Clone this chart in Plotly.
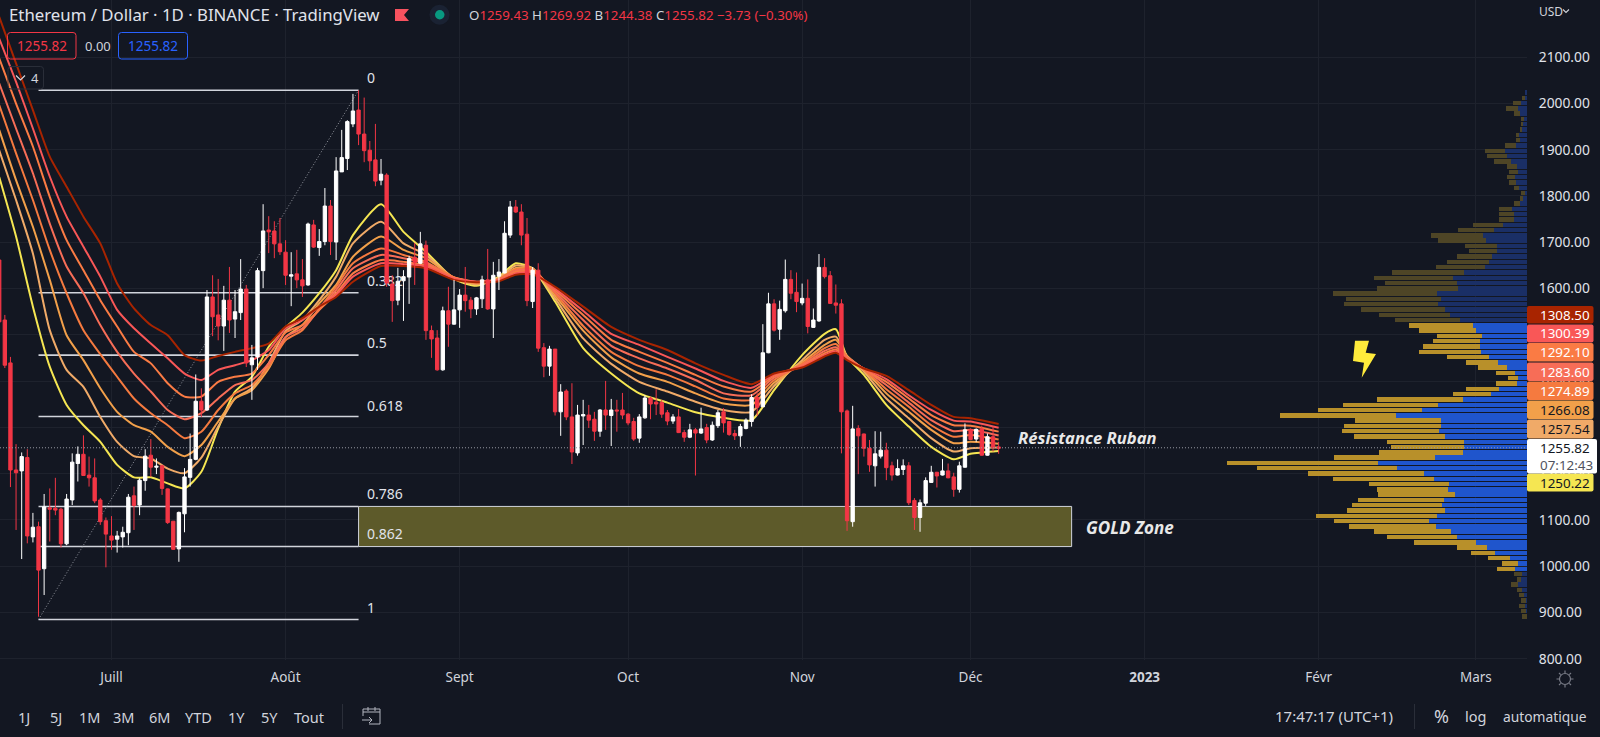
import plotly.graph_objects as go
import pandas as pd

FONT = "Noto Sans"
BG = "#131722"; GRID = "#1e222d"; TXT = "#d1d4dc"; RED = "#f23645"

first_day = "2022-06-11"
o = [1664,1534,1441,1209,1207,1236,1064,1086,995,1127,1126,1124,1049,1144,1223,1243,1198,1192,1144,1099,
     1066,1059,1064,1073,1153,1133,1186,1241,1215,1218,1168,1098,1038,1114,1193,1232,1358,1339,1584,1545,1521,1577,1536,1550,1601,1437,1454,1641,1729,1727,1699,
     1681,1629,1634,1621,1610,1740,1691,1704,1781,1703,1855,1884,1959,1989,1937,1902,1881,1837,1848,1612,1577,1619,1627,1670,1657,1696,1511,1495,1426,1554,1525,
     1556,1588,1577,1558,1580,1621,1558,1629,1636,1718,1779,1768,1720,1574,1642,1474,1434,1471,1335,1380,1324,1246,1326,1328,1319,1293,1339,1327,1339,1339,
     1330,1314,1278,1322,1365,1356,1355,1333,1315,1324,1290,1280,1296,1289,1301,1274,1305,1335,1314,1288,1283,1299,1314,1366,1346,1463,1569,1514,1554,1622,1594,
     1571,1581,1518,1532,1648,1630,1571,1569,1337,1097,1299,1287,1256,1218,1239,1252,1218,1198,1210,1218,1143,1106,1137,1182,1204,1198,1207,1194,1167,1215,
     1296,1276,1298,1241,1281,1259]
h = [1675,1545,1454,1265,1247,1254,1116,1097,1157,1169,1192,1127,1157,1245,1260,1284,1238,1234,1148,1106,
     1109,1077,1086,1157,1173,1191,1254,1276,1234,1220,1169,1098,1119,1213,1288,1416,1386,1599,1631,1623,1608,1649,1599,1666,1610,1480,1647,1785,1759,1748,1755,
     1707,1681,1686,1666,1745,1751,1731,1820,1794,1887,1946,1967,2024,2032,2016,1922,1959,1883,1852,1631,1647,1642,1673,1701,1725,1706,1522,1512,1563,1606,1621,
     1601,1649,1584,1584,1630,1688,1660,1666,1748,1792,1794,1785,1755,1649,1657,1484,1478,1471,1395,1384,1397,1350,1361,1350,1335,1341,1402,1363,1361,1376,
     1332,1322,1330,1371,1368,1384,1361,1339,1330,1341,1296,1309,1300,1344,1309,1314,1339,1343,1315,1296,1309,1321,1373,1375,1525,1593,1579,1576,1665,1642,1637,
     1613,1622,1559,1677,1668,1640,1611,1579,1340,1348,1306,1288,1274,1293,1292,1268,1227,1232,1232,1226,1148,1145,1193,1218,1205,1233,1223,1203,1227,1310,
     1299,1299,1305,1288,1303,1270]
l = [1510,1430,1172,1079,1016,1050,1052,891,938,1054,1111,1041,1046,1133,1184,1196,1173,1137,1090,998,
     1036,1030,1041,1046,1079,1111,1164,1194,1200,1155,1092,1036,1010,1074,1173,1230,1324,1337,1499,1490,1467,1506,1495,1534,1432,1361,1426,1603,1679,1668,1675,
     1610,1564,1603,1584,1608,1690,1673,1696,1675,1664,1855,1859,1952,1913,1876,1857,1824,1826,1606,1530,1566,1532,1569,1610,1655,1491,1452,1424,1424,1476,1524,
     1517,1552,1538,1545,1560,1556,1495,1599,1635,1712,1766,1696,1564,1560,1465,1410,1413,1327,1283,1317,1222,1240,1263,1300,1272,1281,1296,1261,1292,1319,
     1306,1272,1268,1320,1319,1328,1322,1306,1309,1289,1270,1278,1197,1287,1267,1272,1300,1290,1283,1274,1259,1297,1303,1326,1345,1462,1509,1491,1550,1579,1551,
     1566,1505,1517,1530,1624,1569,1548,1245,1077,1086,1200,1238,1205,1173,1234,1187,1186,1197,1198,1133,1079,1075,1131,1181,1171,1197,1191,1151,1160,1214,
     1275,1270,1240,1240,1249,1244]
c = [1530,1436,1209,1203,1238,1066,1085,992,1129,1124,1122,1049,1146,1226,1243,1197,1192,1142,1097,1070,
     1057,1066,1074,1150,1132,1187,1239,1215,1217,1169,1095,1037,1117,1194,1232,1358,1339,1584,1541,1521,1577,1534,1552,1601,1441,1452,1641,1727,1725,1699,1682,
     1631,1632,1621,1608,1742,1692,1704,1781,1704,1857,1886,1964,1987,1937,1901,1879,1835,1850,1614,1576,1618,1628,1667,1658,1699,1511,1493,1426,1554,1525,1556,
     1588,1576,1558,1582,1621,1558,1631,1638,1722,1779,1768,1718,1576,1642,1473,1434,1471,1335,1378,1324,1248,1328,1329,1317,1293,1339,1328,1339,1337,1328,
     1311,1276,1324,1365,1352,1352,1330,1315,1324,1290,1280,1296,1289,1298,1274,1306,1333,1311,1286,1283,1303,1317,1366,1345,1463,1569,1512,1557,1622,1592,1574,
     1581,1520,1534,1648,1628,1570,1566,1335,1099,1298,1283,1256,1220,1244,1252,1214,1198,1212,1218,1138,1106,1138,1186,1204,1196,1207,1192,1167,1218,1296,
     1275,1297,1241,1281,1258,1256]

ribbon_dates = ["2022-06-11","2022-06-14","2022-06-17","2022-06-20","2022-06-23","2022-06-26","2022-06-29","2022-07-02","2022-07-05","2022-07-08",
 "2022-07-11","2022-07-14","2022-07-17","2022-07-20","2022-07-23","2022-07-26","2022-07-29","2022-08-01","2022-08-04","2022-08-07",
 "2022-08-10","2022-08-13","2022-08-18","2022-08-22","2022-08-26","2022-08-31","2022-09-04","2022-09-08","2022-09-11","2022-09-14",
 "2022-09-18","2022-09-23","2022-09-28","2022-10-03","2022-10-08","2022-10-13","2022-10-18","2022-10-23","2022-10-27","2022-11-01",
 "2022-11-05","2022-11-07","2022-11-09","2022-11-12","2022-11-16","2022-11-20","2022-11-24","2022-11-28","2022-12-01","2022-12-06"]
ema_1 = [1844,1715,1563,1433,1350,1306,1270,1220,1193,1193,1180,1169,1205,1299,1379,1411,1476,1518,1550,1592,1642,1718,1785,1725,1682,1623,1608,1628,1657,1646,1574,1473,1418,1375,1355,1334,1322,1317,1382,1458,1504,1514,1454,1415,1350,1303,1259,1232,1244,1250.22]
ema_2 = [1902,1794,1678,1512,1426,1389,1324,1270,1239,1234,1212,1202,1236,1303,1364,1386,1440,1510,1534,1577,1628,1700,1747,1700,1675,1624,1611,1626,1652,1646,1581,1494,1439,1400,1379,1357,1339,1335,1391,1447,1491,1498,1456,1422,1364,1321,1278,1249,1256,1257.54]
ema_3 = [1946,1837,1736,1621,1501,1447,1386,1335,1306,1292,1259,1239,1263,1314,1364,1382,1429,1497,1523,1570,1610,1671,1715,1686,1668,1626,1613,1624,1647,1646,1587,1511,1453,1418,1400,1375,1353,1350,1398,1442,1480,1491,1456,1426,1375,1335,1296,1267,1270,1266.08]
ema_4 = [2000,1895,1794,1686,1592,1512,1460,1411,1364,1332,1306,1278,1292,1339,1375,1393,1433,1490,1512,1559,1606,1657,1689,1675,1660,1626,1615,1623,1644,1644,1592,1521,1465,1434,1415,1390,1364,1361,1404,1439,1473,1482,1454,1427,1384,1346,1306,1281,1285,1274.89]
ema_5 = [2047,1949,1852,1743,1650,1592,1523,1465,1418,1379,1339,1319,1332,1364,1393,1404,1440,1497,1516,1556,1599,1646,1675,1668,1657,1626,1616,1622,1641,1641,1595,1534,1478,1451,1429,1404,1375,1371,1409,1436,1467,1475,1453,1428,1393,1355,1317,1293,1296,1283.6]
ema_6 = [2101,2003,1910,1801,1707,1642,1577,1520,1465,1440,1397,1368,1368,1400,1411,1418,1458,1507,1523,1556,1592,1635,1664,1660,1653,1626,1617,1621,1638,1639,1599,1545,1491,1465,1441,1415,1390,1379,1413,1434,1462,1470,1451,1428,1400,1364,1328,1306,1305,1292.1]
ema_7 = [2144,2050,1949,1845,1758,1693,1628,1556,1516,1483,1451,1418,1404,1426,1436,1447,1469,1516,1534,1563,1588,1628,1657,1655,1650,1624,1617,1620,1635,1636,1602,1554,1504,1480,1454,1429,1402,1387,1416,1433,1458,1466,1449,1429,1406,1371,1339,1316,1314,1300.39]
ema_8 = [2191,2090,1989,1888,1823,1758,1700,1613,1559,1523,1501,1458,1446,1456,1465,1473,1483,1520,1538,1563,1584,1617,1651,1651,1646,1621,1616,1618,1632,1633,1606,1563,1519,1491,1469,1440,1415,1395,1418,1431,1455,1463,1447,1429,1413,1382,1350,1324,1321,1308.5]
ema_colors = ["#f5e652","#f0aa68","#f2a04a","#f57a3f","#f76d57","#fa7b44","#f95757","#a82400"]

vp_price = [2027,2015.5,2004,1992.6,1981.1,1969.6,1958.2,1946.7,1935.2,1923.8,1912.3,1900.8,1889.4,1877.9,1866.4,1855,1843.5,1832,1820.6,1809.1,
 1797.6,1786.2,1774.7,1763.2,1751.8,1740.3,1728.8,1717.4,1705.9,1694.4,1683,1671.5,1660,1648.6,1637.1,1625.6,1614.2,1602.7,1591.2,1579.8,
 1568.3,1556.8,1545.4,1533.9,1522.4,1511,1499.5,1488,1476.6,1465.1,1453.6,1442.2,1430.7,1419.2,1407.8,1396.3,1384.8,1373.4,1361.9,1350.4,
 1339,1327.5,1316,1304.6,1293.1,1281.6,1270.2,1258.7,1247.2,1235.8,1224.3,1212.8,1201.4,1189.9,1178.4,1167,1155.5,1144,1132.6,1121.1,
 1109.6,1098.2,1086.7,1075.2,1063.8,1052.3,1040.8,1029.4,1017.9,1006.4,995,983.5,972,960.6,949.1,937.6,926.2,914.7,903.2,891.8]
vp_up = [1.3,2.3,6,9.3,7,3.3,4,5,8,7,11.3,22,19.7,16,9.7,9.3,12,11.3,8,2.3,3.7,7,15,13.3,13.3,24,33,43.7,41.3,29.7,30.3,35,37.7,42,63.3,73.7,70,69,89.7,86.3,
 88.7,82.3,77,67,54.3,51,44.7,47.3,47.3,46.3,38.3,29.3,20.3,12,8.7,10.3,28.3,36.3,64.3,88.7,104.7,131,86,86,87.7,82,63.3,63.3,64.3,92,
 149,130,103.3,93,78,79,71.7,83.3,85,82.3,90,97.7,91.3,76,70,51,40,32,17,9,12,5,6,9,5,3,1.3,2,1,0]
vp_down = [0,2.7,8,12,6,2.3,1.7,2,3.3,4.3,10.7,20,20.3,17,10.7,8.3,8.3,6.3,5,3.3,3.3,6,13.3,14.3,15,29.7,36,52.3,47.3,32,27.7,35,42,49.3,72,79.7,72,81,104,94.7,
 94.3,83.7,71,64.7,64,56.7,45,46.7,56.7,61.3,41.3,31.3,28.7,19,10.7,20.7,32.3,37.7,85.3,95,104,115.7,86,97,97.7,91,76.7,72.7,83.7,101,
 150.7,140,115.7,100.7,79.7,70.7,77.3,86,90,97.7,120.7,95.3,87,77.3,70,62,29.7,24.3,22.3,16,18.3,8,4,7,5.3,5,4.7,6,5,5]
value_area_rows = range(44, 91)

fib_levels = [2032, 1593, 1458, 1325, 1130, 1043, 885]
fib_text = ["0", "0.382", "0.5", "0.618", "0.786", "0.862", "1"]
fib_text_price = [2056, 1616, 1482, 1345, 1153, 1067, 907]
fib_start, fib_end, zone_end = "2022-06-18", "2022-08-14", "2022-12-19"
last_price = 1255.82

y_ticks = list(range(800, 2200, 100))
month_ticks = ["2022-07-01","2022-08-01","2022-09-01","2022-10-01","2022-11-01","2022-12-01","2023-01-01","2023-02-01","2023-03-01"]
month_text = ["Juill","Août","Sept","Oct","Nov","Déc","<b>2023</b>","Févr","Mars"]
tag_labels = ["1308.50","1300.39","1292.10","1283.60","1274.89","1266.08","1257.54","1250.22"]
tag_bg = ["#a82400","#f95757","#fa7b44","#f76d57","#f57a3f","#f2a04a","#f0aa68","#f5e652"]
tag_fg = ["#ffffff"]*5 + ["#131722"]*3
range_labels = ["1J","5J","1M","3M","6M","YTD","1Y","5Y","Tout"]

# Readings above were taken with a slightly coarse scale; this refines them to the axis grid.
def cal(v):
    return [800 + (p - 800) * 0.9972 for p in v]

# layout helpers: screen pixel -> paper
PW, PH = 1527, 660
px = lambda x: x / PW
py = lambda y: 1 - y / PH

dates = pd.date_range(first_day, periods=len(o), freq="D")
fib_y = cal(fib_levels)
fig = go.Figure()

# main axes: fib, ribbon
for lev in fib_y:
    fig.add_trace(go.Scatter(x=[fib_start, fib_end], y=[lev, lev], mode="lines",
                             line=dict(color="#d1d4dc", width=1.6), hoverinfo="skip"))
fig.add_trace(go.Scatter(x=[fib_start, fib_end], y=[fib_y[-1], fib_y[0]], mode="lines",
                         line=dict(color="#9598a1", width=1, dash="1px,2px"), hoverinfo="skip"))
fig.add_trace(go.Scatter(x=["2022-08-15 12:00"]*7, y=cal(fib_text_price), text=fib_text, mode="text",
                         textposition="middle right", textfont=dict(family=FONT, size=14, color="#e0e3eb"), hoverinfo="skip"))
for ys, col in zip([ema_1, ema_2, ema_3, ema_4, ema_5, ema_6, ema_7, ema_8], ema_colors):
    fig.add_trace(go.Scatter(x=ribbon_dates, y=cal(ys), mode="lines",
                             line=dict(color=col, width=2, shape="spline", smoothing=0.6), hoverinfo="skip"))

# volume profile
dim_up, dim_dn, hi_up, hi_dn = "#1a2f66", "#4e4526", "#1f55cc", "#b8902a"
cols_up = [hi_up if i in value_area_rows else dim_up for i in range(len(vp_price))]
cols_dn = [hi_dn if i in value_area_rows else dim_dn for i in range(len(vp_price))]
fig.add_trace(go.Bar(y=cal(vp_price), x=[-v for v in vp_up], orientation="h", width=9.6, marker=dict(color=cols_up, line_width=0),
                     xaxis="x3", yaxis="y", hoverinfo="skip"))
fig.add_trace(go.Bar(y=cal(vp_price), x=[-v for v in vp_down], orientation="h", width=9.6, marker=dict(color=cols_dn, line_width=0),
                     xaxis="x3", yaxis="y", hoverinfo="skip"))

# candles, on an overlay pair so that they sit above the ribbon
fig.add_trace(go.Candlestick(x=dates, open=cal(o), high=cal(h), low=cal(l), close=cal(c), xaxis="x2", yaxis="y2",
    increasing=dict(line=dict(color="#ffffff", width=1), fillcolor="#ffffff"),
    decreasing=dict(line=dict(color=RED, width=1), fillcolor=RED), whiskerwidth=0, hoverinfo="skip"))

x_range = ["2022-06-11 03:20", "2023-03-10 02:24"]
y_range = [797.2, 2223.5]

def rr(x0, y0, x1, y1, r=3):
    a, b, c_, d = px(x0), py(y0), px(x1), py(y1)
    rx, ry = r / PW, r / PH
    return (f"M{a+rx},{b} L{c_-rx},{b} Q{c_},{b} {c_},{b-ry} L{c_},{d+ry} Q{c_},{d} {c_-rx},{d} "
            f"L{a+rx},{d} Q{a},{d} {a},{d+ry} L{a},{b-ry} Q{a},{b} {a+rx},{b} Z")

def poly(pts):
    return "M" + " L".join(f"{px(x)},{py(y)}" for x, y in pts) + " Z"

shapes = [
    dict(type="rect", xref="x", yref="y", x0=fib_end, x1=zone_end, y0=fib_y[5], y1=fib_y[4],
         fillcolor="#5d5a2a", line=dict(color="#d1d4dc", width=1), layer="between"),
    dict(type="line", xref="paper", yref="y", x0=0, x1=1, y0=last_price, y1=last_price,
         line=dict(color="#9598a1", width=1, dash="1px,2px")),
    dict(type="path", xref="paper", yref="paper", path=rr(7.5, 32.5, 76, 59), line=dict(color=RED, width=1)),
    dict(type="path", xref="paper", yref="paper", path=rr(118.5, 32.5, 187.5, 59), line=dict(color="#2962ff", width=1)),
    dict(type="path", xref="paper", yref="paper", path=rr(8, 66.5, 43.5, 89), line=dict(color="#2a2e39", width=1)),
    dict(type="path", xref="paper", yref="paper", path=f"M{px(16)},{py(75.5)} L{px(20.5)},{py(80)} L{px(25)},{py(75.5)}", line=dict(color="#d1d4dc", width=1.2)),
    # USD chevron
    dict(type="path", xref="paper", yref="paper", path=f"M{px(1563)},{py(9.5)} L{px(1566)},{py(12.5)} L{px(1569)},{py(9.5)}", line=dict(color="#d1d4dc", width=1.1)),
    # flag
    dict(type="path", xref="paper", yref="paper", path=poly([(395, 9), (409, 9), (404, 15), (409, 21), (395, 21)]), fillcolor="#f7525f", line_width=0),
    # status dot
    dict(type="circle", xref="paper", yref="paper", x0=px(429.5), x1=px(449.5), y0=py(4.7), y1=py(24.7), fillcolor="#1a2233", line_width=0),
    dict(type="circle", xref="paper", yref="paper", x0=px(435), x1=px(444.5), y0=py(10), y1=py(19.5), fillcolor="#089981", line_width=0),
    # bolt
    dict(type="path", xref="paper", yref="paper", fillcolor="#ffeb3b", line_width=0,
         path=poly([(1355, 340.7), (1369, 340.7), (1365.7, 352.7), (1376, 354), (1361.7, 377.7), (1364, 362.7), (1353, 361)])),
    # calendar icon
    dict(type="path", xref="paper", yref="paper", line=dict(color="#b2b5be", width=1),
         path=f"M{px(363)},{py(716)} L{px(363)},{py(709)} L{px(380)},{py(709)} L{px(380)},{py(724)} L{px(369)},{py(724)} "
              f"M{px(363)},{py(712)} L{px(380)},{py(712)} M{px(368)},{py(707)} L{px(368)},{py(711)} M{px(375)},{py(707)} L{px(375)},{py(711)} "
              f"M{px(362)},{py(720)} L{px(372)},{py(720)} M{px(369)},{py(717)} L{px(372)},{py(720)} L{px(369)},{py(723)}"),
    dict(type="line", xref="paper", yref="paper", x0=px(342.5), x1=px(342.5), y0=py(704), y1=py(729), line=dict(color="#2a2e39", width=1)),
    dict(type="line", xref="paper", yref="paper", x0=px(1414.5), x1=px(1414.5), y0=py(704), y1=py(729), line=dict(color="#2a2e39", width=1)),
    # sun
    dict(type="circle", xref="paper", yref="paper", x0=px(1559.5), x1=px(1570.5), y0=py(673.5), y1=py(684.5), line=dict(color="#787b86", width=1.2)),
    dict(type="path", xref="paper", yref="paper", line=dict(color="#787b86", width=1.2),
         path=f"M{px(1565)},{py(670.5)} L{px(1565)},{py(673)} M{px(1565)},{py(685)} L{px(1565)},{py(687.5)} "
              f"M{px(1556.5)},{py(679)} L{px(1559)},{py(679)} M{px(1571)},{py(679)} L{px(1573.5)},{py(679)} "
              f"M{px(1559)},{py(673)} L{px(1560.7)},{py(674.7)} M{px(1571)},{py(673)} L{px(1569.3)},{py(674.7)} "
              f"M{px(1559)},{py(685)} L{px(1560.7)},{py(683.3)} M{px(1571)},{py(685)} L{px(1569.3)},{py(683.3)}"),
]

tag_rows = [(306, 323.5), (324.5, 342.5), (343, 361.5), (362.5, 381), (381.5, 400), (400.5, 419), (419.5, 438.5), (473.5, 491.5)]
for (y0, y1), bg in zip(tag_rows, tag_bg):
    shapes.append(dict(type="path", xref="paper", yref="paper", path=rr(1527, y0, 1593.5, y1, 2), fillcolor=bg, line_width=0))
shapes.append(dict(type="path", xref="paper", yref="paper", path=rr(1527, 439, 1597, 473.5, 2), fillcolor="#ffffff", line_width=0))

ann = []
def t(x, y, s, size=13, color=TXT, anchor="left", **kw):
    ann.append(dict(xref="paper", yref="paper", x=px(x), y=py(y), text=s, showarrow=False, xanchor=anchor, yanchor="middle",
                    font=dict(family=kw.pop("family", FONT), size=size, color=color), borderpad=0, **kw))

t(8, 15, "Ethereum / Dollar · 1D · BINANCE · TradingView", size=16.8, color="#e0e3eb")
red = lambda s: f'<span style="color:{RED}">{s}</span>'
t(468, 15, f"O{red('1259.43')} H{red('1269.92')} B{red('1244.38')} C{red('1255.82')} {red('−3.73 (−0.30%)')}", size=13.3)
t(41.7, 46, "1255.82", size=13.5, color=RED, anchor="center")
t(97.5, 46, "0.00", size=13, color=TXT, anchor="center")
t(153, 46, "1255.82", size=13.5, color="#2962ff", anchor="center")
t(34.5, 78, "4", size=13, color=TXT, anchor="center")
t(1017, 437, "<b><i>Résistance Ruban</i></b>", size=16.6, color="#e8e8e8")
t(1085, 527.5, "<b><i>GOLD Zone</i></b>", size=17, color="#e8e8e8")
t(1538, 11, "USD", size=12, color=TXT)

for (y0, y1), lab, fg in zip(tag_rows, tag_labels, tag_fg):
    t(1539, (y0 + y1) / 2, lab, size=13.4, color=fg)
t(1539, 456.7, '1255.82<br><span style="color:#50535e">07:12:43</span>', size=13.4, color="#131722", align="left")

for x, lab in zip([24, 56, 89, 124, 159, 198, 236, 269, 309], range_labels):
    t(x, 716.5, lab, size=14.5, color="#d1d4dc", anchor="center")
t(1274, 716, "17:47:17 (UTC+1)", size=15, color="#d1d4dc")
t(1441, 716, "%", size=18, color="#d1d4dc", anchor="center")
t(1475, 716, "log", size=14.5, color="#d1d4dc", anchor="center")
t(1502, 716, "automatique", size=13.8, color="#d1d4dc")

fig.update_layout(
    width=1600, height=737, margin=dict(l=0, r=73, t=0, b=77), showlegend=False,
    paper_bgcolor=BG, plot_bgcolor=BG, barmode="stack", bargap=0,
    boxgap=0.15, boxgroupgap=0.3, shapes=shapes, annotations=ann, font=dict(family=FONT, color=TXT, size=13),
    xaxis=dict(type="date", range=x_range, tickmode="array", tickvals=month_ticks, ticktext=month_text, showgrid=True, gridcolor=GRID, gridwidth=1,
               zeroline=False, showline=False, ticks="outside", ticklen=5, tickcolor=BG, tickfont=dict(family=FONT, size=13.5, color=TXT), fixedrange=True),
    yaxis=dict(range=y_range, side="right", tickmode="array", tickvals=y_ticks, ticktext=[f"{v}.00" for v in y_ticks], showgrid=True, gridcolor=GRID, gridwidth=1,
               zeroline=False, showline=False, ticks="outside", ticklen=8, tickcolor=BG, tickfont=dict(family=FONT, size=13.8, color="#e0e3eb"), fixedrange=True),
    xaxis2=dict(type="date", range=x_range, overlaying="x", anchor="y2", visible=False, rangeslider=dict(visible=False), fixedrange=True),
    yaxis2=dict(range=y_range, overlaying="y", anchor="x2", side="right", visible=False, fixedrange=True),
    xaxis3=dict(range=[-PW, 0], overlaying="x", anchor="y", visible=False, fixedrange=True),
)

fig.write_html("out.html", config=dict(displayModeBar=False),
               post_script="document.body.style.margin='0';document.body.style.background='#131722';document.documentElement.style.overflow='hidden';")
